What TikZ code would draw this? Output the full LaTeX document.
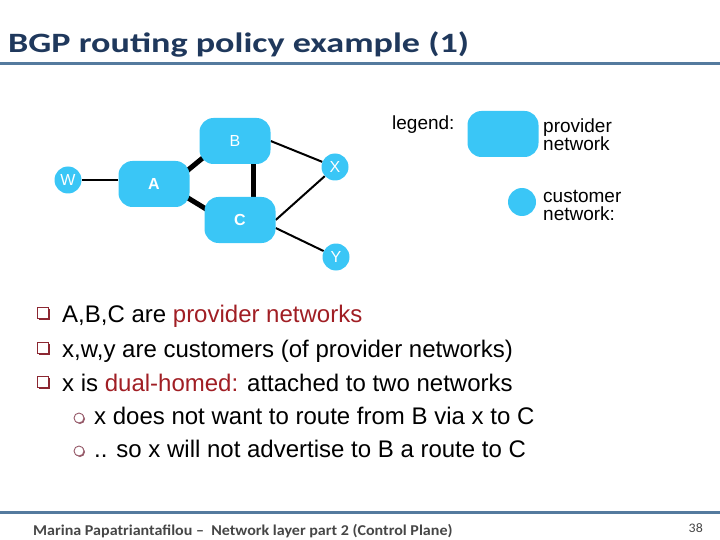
\documentclass[tikz,border=0pt]{standalone}
\usepackage{fontspec}
\setmainfont{Liberation Sans}
\newfontfamily\slidefont[FakeStretch=1.29]{Carlito}
\newfontfamily\footfont[FakeStretch=1.07]{Carlito}
\usetikzlibrary{positioning,backgrounds,shadows}

\definecolor{netblue}{RGB}{58,198,246}
\definecolor{titleblue}{RGB}{31,56,92}
\definecolor{rulecolor}{RGB}{84,122,158}
\definecolor{hilite}{RGB}{160,30,36}
\definecolor{bulletred}{RGB}{140,40,50}
\definecolor{bulletrose}{RGB}{150,90,105}
\definecolor{footgrey}{RGB}{70,70,70}

\tikzset{
  provider/.style={rectangle, rounded corners=14pt, fill=netblue, minimum width=71pt,
    minimum height=46pt, inner sep=0pt, text=white, font=\fontsize{16}{16}\selectfont},
  customer/.style={circle, fill=netblue, minimum size=27pt, inner sep=0pt, text=white,
    font=\fontsize{16}{16}\selectfont},
  thinlink/.style={line width=2pt},
  thicklink/.style={line width=5pt},
  bullettext/.style={anchor=base west, inner sep=0pt, font=\fontsize{24}{28}\selectfont},
  legendtext/.style={anchor=base west, inner sep=0pt, align=left, font=\fontsize{19}{18}\selectfont},
  sqbullet/.style={rectangle, draw=bulletred, fill=white, line width=1pt, minimum size=11pt,
    inner sep=0pt, drop shadow={shadow xshift=1.4pt, shadow yshift=-1.4pt, fill=bulletred, opacity=1}},
  cbullet/.style={circle, draw=bulletrose, fill=white, line width=0.9pt, minimum size=10pt,
    inner sep=0pt, drop shadow={shadow xshift=1pt, shadow yshift=-1pt, fill=bulletrose, opacity=1}},
}

\begin{document}
\begin{tikzpicture}[x=1pt, y=-1pt]
    \useasboundingbox (0,0) rectangle (720,540);

    %Title
    \node[anchor=base west, inner sep=0pt, text=titleblue,
      font=\slidefont\bfseries\fontsize{28}{30}\selectfont] (title) at (8,53) {BGP routing policy example (1)};
    \draw[rulecolor, line width=3pt] (0,64) -- (720,64);

    %Networks
    \node[customer] (W) at (68,180) {W};
    \node[provider, font=\fontsize{16}{16}\selectfont\bfseries] (A) at (154,184) {A};
    \node[provider] (B) at (235,141) {B};
    \node[provider, font=\fontsize{16}{16}\selectfont\bfseries] (C) at (240,220) {C};
    \node[customer] (X) at (335,167) {X};
    \node[customer] (Y) at (336,257) {Y};

    %Links
    \begin{pgfonlayer}{background}
    \draw[thinlink] (W) -- (A.west |- W);
    \draw[thicklink] ([shift={(-5pt,-12pt)}]A.north east) -- ([shift={(8pt,10pt)}]B.south west);
    \draw[thicklink] ([shift={(-3pt,10pt)}]A.south east) -- ([shift={(3pt,-13pt)}]C.north west);
    \draw[thicklink] ([xshift=18pt]B.south) -- ([xshift=13pt]C.north);
    \draw[thinlink] (B.east) -- (X);
    \draw[thinlink] (C.east) -- (X);
    \draw[thinlink] ([yshift=-8pt]C.east) -- (Y);
    \end{pgfonlayer}

    %Legend
    \node[legendtext] (legend) at (392,130) {legend:};
    \node[provider] (provleg) at (503,134) {};
    \node[legendtext] (provtxt) at (543,151) {provider\\network};
    \node[customer, minimum size=28pt] (custleg) at (522,202) {};
    \node[legendtext] (custtxt) at (543,221) {customer\\network:};

    %Bullets
    \node[sqbullet] (b1) at (43,313) {};
    \node[bullettext] (t1) at (62,322) {A,B,C are \textcolor{hilite}{provider networks}};
    \node[sqbullet] (b2) at (43,348) {};
    \node[bullettext] (t2) at (62,357) {x,w,y are customers (of provider networks)};
    \node[sqbullet] (b3) at (43,382) {};
    \node[bullettext] (t3) at (62,391) {x is \textcolor{hilite}{dual-homed:} attached to two networks};
    \node[cbullet] (b4) at (79,418) {};
    \node[bullettext] (t4) at (94,424) {x does not want to route from B via x to C};
    \node[cbullet] (b5) at (79,451) {};
    \node[bullettext] (t5) at (94,457) {.. so x will not advertise to B a route to C};

    %Footer
    \draw[rulecolor, line width=3pt] (0,512) -- (720,512);
    \node[anchor=base west, inner sep=0pt, text=footgrey,
      font=\footfont\bfseries\fontsize{15}{15}\selectfont] (footer) at (33,535)
      {Marina Papatriantafilou –\ \ Network layer part 2 (Control Plane)};
    \node[anchor=base east, inner sep=0pt, text=footgrey,
      font=\footfont\fontsize{13}{13}\selectfont] (pageno) at (703,532) {38};
\end{tikzpicture}
\end{document}
